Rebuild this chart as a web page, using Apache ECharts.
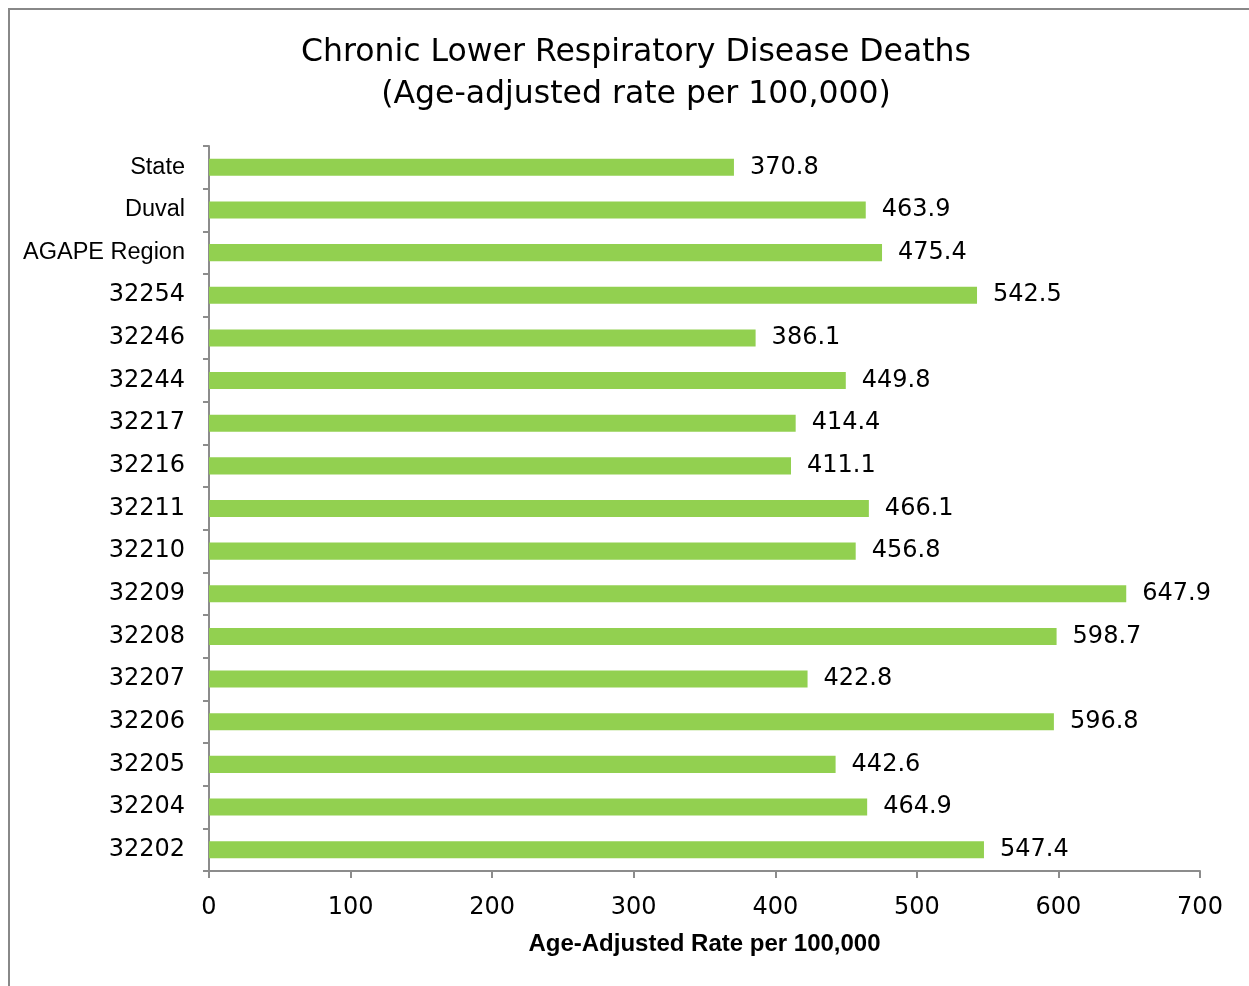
<!DOCTYPE html>
<html>
<head>
<meta charset="utf-8">
<script src="https://cdn.jsdelivr.net/npm/echarts@6/dist/echarts.min.js"></script>
<style>
  html, body { margin: 0; padding: 0; background: #fff; }
  #chart { width: 1249px; height: 986px; }
</style>
</head>
<body>
<div id="chart"></div>
<script>
// Categories, listed top to bottom as they appear on the axis
const categories = [
  'State', 'Duval', 'AGAPE Region', '32254', '32246', '32244', '32217',
  '32216', '32211', '32210', '32209', '32208', '32207', '32206', '32205',
  '32204', '32202'
];

// Age-adjusted death rates per 100,000
const rates = [
  370.8, 463.9, 475.4, 542.5, 386.1, 449.8, 414.4,
  411.1, 466.1, 456.8, 647.9, 598.7, 422.8, 596.8, 442.6,
  464.9, 547.4
];

const xTicks = [0, 100, 200, 300, 400, 500, 600, 700];

const chart = echarts.init(document.getElementById('chart'), null, { renderer: 'canvas' });

const axisGray = '#8c8c8c';
const textFont = 'Liberation Sans, Arial, sans-serif';
const digitFont = 'DejaVu Sans, sans-serif';

chart.setOption({
  animation: false,
  backgroundColor: '#fff',
  title: {
    text: 'Chronic Lower Respiratory Disease Deaths\n(Age-adjusted rate per 100,000)',
    left: 631,
    textAlign: 'center',
    top: 27,
    textStyle: {
      fontFamily: digitFont,
      fontSize: 31.5,
      fontWeight: 'normal',
      color: '#000',
      lineHeight: 42
    }
  },
  graphic: [{
    type: 'rect',
    shape: { x: 9, y: 9, width: 1300, height: 1100 },
    style: { fill: 'none', stroke: '#888', lineWidth: 2 },
    silent: true
  }],
  grid: {
    left: 209,
    right: 49,
    top: 146,
    bottom: 115,
    containLabel: false
  },
  xAxis: {
    type: 'value',
    min: xTicks[0],
    max: xTicks[xTicks.length - 1],
    interval: 100,
    name: 'Age-Adjusted Rate per 100,000',
    nameLocation: 'middle',
    nameGap: 61,
    nameTextStyle: {
      fontFamily: textFont,
      fontSize: 24,
      fontWeight: 'bold',
      color: '#000'
    },
    axisLine: { show: true, lineStyle: { color: axisGray, width: 2 } },
    axisTick: { show: true, length: 7, lineStyle: { color: axisGray, width: 2 } },
    axisLabel: {
      fontFamily: digitFont,
      fontSize: 24,
      color: '#000',
      margin: 25
    },
    splitLine: { show: false }
  },
  yAxis: {
    type: 'category',
    data: categories,
    inverse: true,
    axisLine: { show: true, lineStyle: { color: axisGray, width: 2 } },
    axisTick: { show: true, length: 6, alignWithLabel: false, lineStyle: { color: axisGray, width: 2 } },
    axisLabel: {
      margin: 24,
      color: '#000',
      // zip codes use the wider-digit face, names the regular face
      formatter: v => /^\d+$/.test(v) ? '{num|' + v + '}' : '{txt|' + v + '}',
      rich: {
        num: { fontFamily: digitFont, fontSize: 24, color: '#000' },
        txt: { fontFamily: textFont, fontSize: 23.5, color: '#000' }
      }
    },
    splitLine: { show: false }
  },
  series: [{
    type: 'bar',
    data: rates,
    barCategoryGap: '60%',
    itemStyle: { color: '#92d050' },
    label: {
      show: true,
      position: 'right',
      distance: 16,
      fontFamily: digitFont,
      fontSize: 24,
      color: '#000',
      formatter: p => p.value.toFixed(1)
    }
  }]
});
</script>
</body>
</html>
